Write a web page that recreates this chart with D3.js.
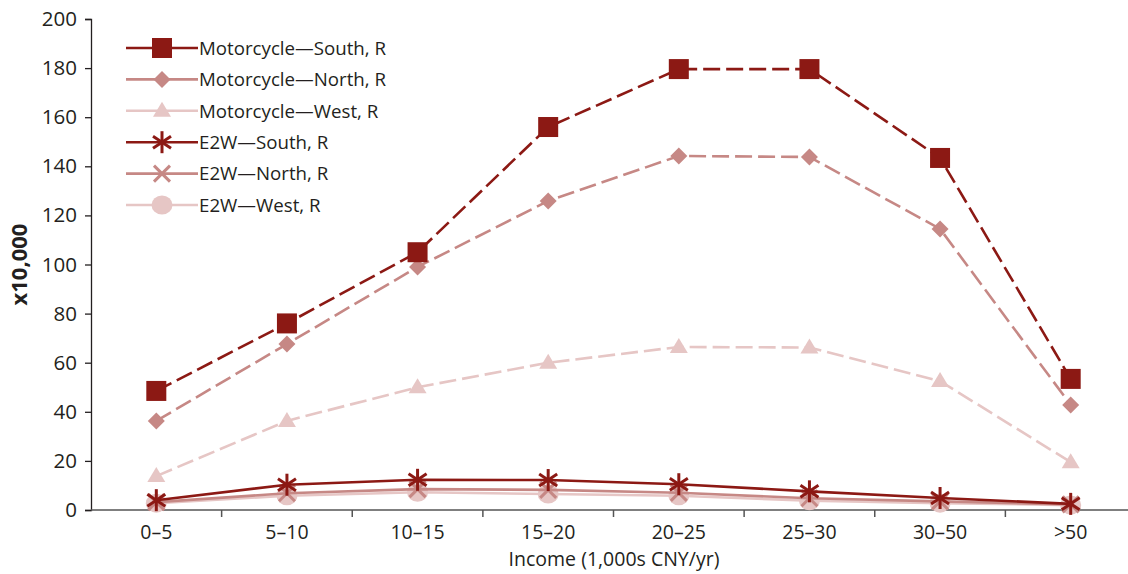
<!DOCTYPE html>
<html>
<head>
<meta charset="utf-8">
<script src="https://cdn.jsdelivr.net/npm/d3@7"></script>
<style>
  html, body { margin: 0; padding: 0; background: #fff; }
  svg { display: block; }
  text { font-family: "Open Sans", "Noto Sans", sans-serif; fill: #231f20; }
</style>
</head>
<body>
<svg id="chart" width="1128" height="574"></svg>
<script>
// Income bands (1,000s CNY per year)
const categories = ["0–5", "5–10", "10–15", "15–20", "20–25", "25–30", "30–50", ">50"];

// Ownership counts, in units of 10,000
const motoSouth = [48.5, 76, 105, 156, 179.6, 179.6, 143.4, 53.4];
const motoNorth = [36.3, 67.6, 99, 125.9, 144.2, 143.8, 114.5, 42.8];
const motoWest  = [13.8, 36.3, 50, 60, 66.4, 66.2, 52.5, 19.5];
const e2wSouth  = [4.0, 10.3, 12.3, 12.2, 10.5, 7.6, 4.9, 2.5];
const e2wNorth  = [3.2, 6.8, 8.5, 8.2, 7.0, 4.8, 3.5, 2.3];
const e2wWest   = [2.8, 5.8, 7.2, 6.5, 5.8, 3.8, 2.8, 2.0];

const seriesNames = [
  "Motorcycle—South, R", "Motorcycle—North, R", "Motorcycle—West, R",
  "E2W—South, R", "E2W—North, R", "E2W—West, R"
];
const yTicks = [0, 20, 40, 60, 80, 100, 120, 140, 160, 180, 200];

const DARK = "#8c1914", MID = "#c68885", LIGHT = "#e6c6c5";

const series = [
  { name: seriesNames[0], values: motoSouth, color: DARK,  dashed: true,  marker: "square" },
  { name: seriesNames[1], values: motoNorth, color: MID,   dashed: true,  marker: "diamond" },
  { name: seriesNames[2], values: motoWest,  color: LIGHT, dashed: true,  marker: "triangle" },
  { name: seriesNames[3], values: e2wSouth,  color: DARK,  dashed: false, marker: "star" },
  { name: seriesNames[4], values: e2wNorth,  color: MID,   dashed: false, marker: "cross" },
  { name: seriesNames[5], values: e2wWest,   color: LIGHT, dashed: false, marker: "circle" }
];

const svg = d3.select("#chart");
const plotLeft = 91, plotRight = 1136, plotTop = 19, plotBottom = 510;

const x = d3.scaleBand().domain(categories).range([plotLeft, plotRight]);
const y = d3.scaleLinear().domain([0, 200]).range([plotBottom, plotTop]);
const cx = c => x(c) + x.bandwidth() / 2;

// Y axis
const yAxis = svg.append("g")
  .attr("transform", `translate(${plotLeft},0)`)
  .call(d3.axisLeft(y).tickValues(yTicks).tickSize(6).tickPadding(8));
yAxis.select(".domain").attr("stroke", "#231f20").attr("stroke-width", 1.3);
yAxis.selectAll(".tick line").attr("stroke", "#231f20").attr("stroke-width", 1.3);
yAxis.selectAll(".tick text").style("font-size", "20.5px").attr("fill", "#231f20");

// X axis: ticks sit on the band boundaries
const xAxis = svg.append("g").attr("transform", `translate(0,${plotBottom})`);
xAxis.append("line")
  .attr("x1", plotLeft).attr("x2", 1128)
  .attr("stroke", "#555").attr("stroke-width", 1.5);
xAxis.selectAll("line.tk")
  .data(categories.slice(1))
  .join("line")
  .attr("class", "tk")
  .attr("x1", d => x(d)).attr("x2", d => x(d))
  .attr("y1", 0).attr("y2", 7)
  .attr("stroke", "#555").attr("stroke-width", 1.5);
xAxis.selectAll("text.lbl")
  .data(categories)
  .join("text")
  .attr("class", "lbl")
  .attr("x", d => cx(d))
  .attr("y", 29)
  .attr("text-anchor", "middle")
  .style("font-size", "19.5px")
  .text(d => d);

// Axis titles
svg.append("text")
  .attr("transform", `translate(27,${(plotTop + plotBottom) / 2}) rotate(-90)`)
  .attr("text-anchor", "middle")
  .style("font-size", "22px")
  .style("font-weight", "bold")
  .text("x10,000");
svg.append("text")
  .attr("x", 614).attr("y", 566)
  .attr("text-anchor", "middle")
  .style("font-size", "19.5px")
  .text("Income (1,000s CNY/yr)");

// Marker shapes drawn around (0,0)
function drawMarker(g, s) {
  const c = s.color;
  switch (s.marker) {
    case "square":
      g.append("rect").attr("x", -10).attr("y", -10).attr("width", 20).attr("height", 20).attr("fill", c);
      break;
    case "diamond":
      g.append("path").attr("d", "M0,-8.5L8.5,0L0,8.5L-8.5,0Z").attr("fill", c);
      break;
    case "triangle":
      g.append("path").attr("d", "M0,-9L9,6L-9,6Z").attr("fill", c);
      break;
    case "star":
      [[0, -11, 0, 11], [-9, -6, 9, 6], [-9, 6, 9, -6]].forEach(p =>
        g.append("line").attr("x1", p[0]).attr("y1", p[1]).attr("x2", p[2]).attr("y2", p[3])
          .attr("stroke", c).attr("stroke-width", 3));
      break;
    case "cross":
      [[-8, -8, 8, 8], [-8, 8, 8, -8]].forEach(p =>
        g.append("line").attr("x1", p[0]).attr("y1", p[1]).attr("x2", p[2]).attr("y2", p[3])
          .attr("stroke", c).attr("stroke-width", 3));
      break;
    case "circle":
      g.append("ellipse").attr("rx", 10.5).attr("ry", 9.5).attr("fill", c);
      break;
  }
}

const line = d3.line().x((d, i) => cx(categories[i])).y(d => y(d));

// Draw from back to front so the south series stay on top
const drawOrder = [5, 4, 3, 2, 1, 0];
drawOrder.forEach(k => {
  const s = series[k];
  svg.append("path")
    .datum(s.values)
    .attr("fill", "none")
    .attr("stroke", s.color)
    .attr("stroke-width", 2.6)
    .attr("stroke-dasharray", s.dashed ? "17,6" : null)
    .attr("d", line);
  s.values.forEach((v, i) => {
    const g = svg.append("g").attr("transform", `translate(${cx(categories[i])},${y(v)})`);
    drawMarker(g, s);
  });
});

// Legend
const legend = svg.append("g");
series.forEach((s, i) => {
  const ly = 48 + i * 31.4;
  const g = legend.append("g").attr("transform", `translate(0,${ly})`);
  g.append("line").attr("x1", 126).attr("x2", 198)
    .attr("stroke", s.color).attr("stroke-width", 2.6);
  const m = g.append("g").attr("transform", "translate(162,0)");
  drawMarker(m, s);
  g.append("text").attr("x", 199).attr("y", 0).attr("dy", "0.36em")
    .style("font-size", "18.7px").text(s.name);
});
</script>
</body>
</html>
